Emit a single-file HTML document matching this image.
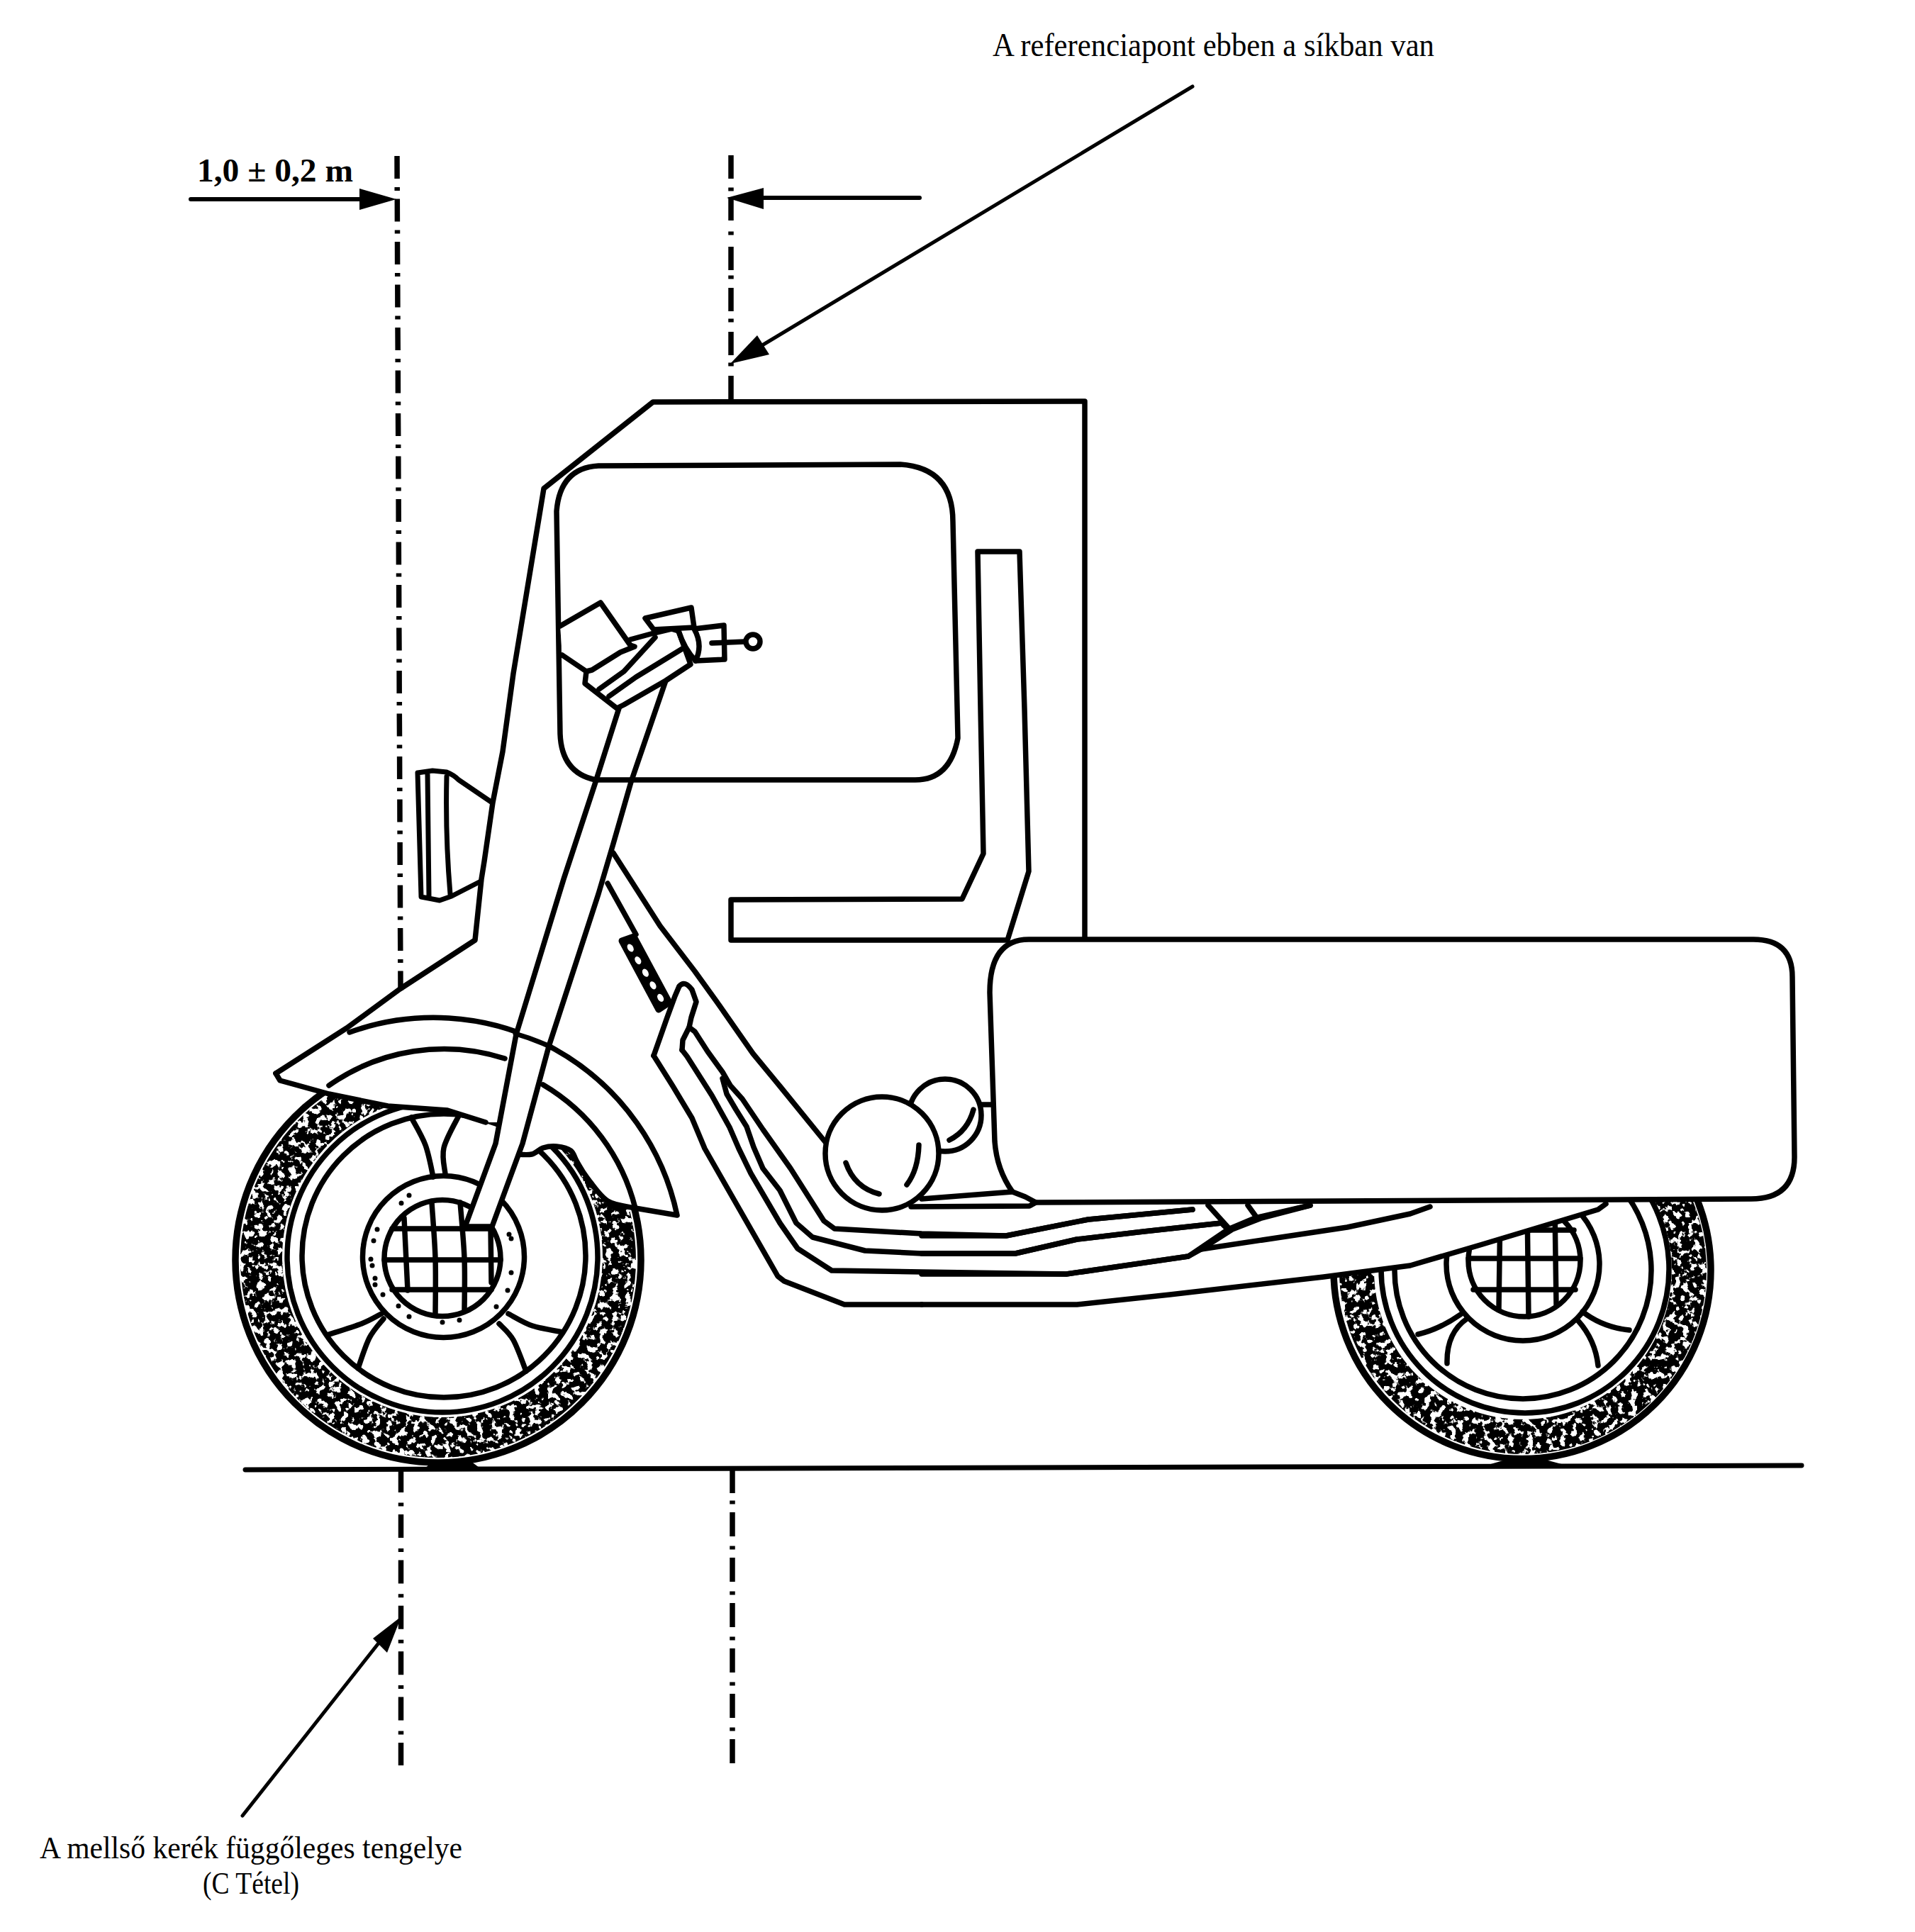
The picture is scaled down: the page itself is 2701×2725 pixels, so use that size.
<!DOCTYPE html><html><head><meta charset="utf-8"><style>
html,body{margin:0;padding:0;background:#fff;}
svg{display:block;}
text{font-family:"Liberation Serif",serif;fill:#000;}
</style></head><body>
<svg width="2701" height="2725" viewBox="0 0 2701 2725">
<defs>
<filter id="stip" x="0" y="0" width="100%" height="100%">
<feTurbulence type="fractalNoise" baseFrequency="0.11" numOctaves="3" seed="3" result="n"/>
<feColorMatrix in="n" type="matrix" values="0 0 0 0 0  0 0 0 0 0  0 0 0 0 0  0 0 0 -14 8.5" result="m"/>
<feComposite in="SourceGraphic" in2="m" operator="in"/>
</filter>
</defs>
<rect width="2701" height="2725" fill="#fff"/>
<text x="1400" y="79" font-size="46" textLength="623" lengthAdjust="spacingAndGlyphs">A referenciapont ebben a síkban van</text><text x="278" y="256" font-size="46" font-weight="bold" textLength="220" lengthAdjust="spacingAndGlyphs">1,0 ± 0,2 m</text><text x="56" y="2621" font-size="44" textLength="596" lengthAdjust="spacingAndGlyphs">A mellső kerék függőleges tengelye</text><text x="286" y="2671" font-size="44" textLength="136" lengthAdjust="spacingAndGlyphs">(C Tétel)</text><path d="M560.0,220.0L560.1,252.0M560.3,280.5L560.4,312.5M560.5,341.0L560.6,373.0M560.8,401.5L560.9,433.5M561.0,462.0L561.2,494.0M561.3,522.5L561.4,554.5M561.5,583.0L561.7,615.0M561.8,643.5L561.9,675.5M562.1,704.0L562.2,736.0M562.3,764.5L562.4,796.5M562.6,825.0L562.7,857.0M562.8,885.5L563.0,917.5M563.1,946.0L563.2,978.0M563.3,1006.5L563.5,1038.5M563.6,1067.0L563.7,1099.0M563.9,1127.5L564.0,1159.5M564.1,1188.0L564.2,1220.0M564.4,1248.5L564.5,1280.5M564.6,1309.0L564.8,1341.0M564.9,1369.5L565.0,1397.0M560.2,264.0L560.2,269.0M560.5,324.5L560.5,329.5M560.7,385.0L560.7,390.0M561.0,445.5L561.0,450.5M561.2,506.0L561.2,511.0M561.5,566.5L561.5,571.5M561.7,627.0L561.7,632.0M562.0,687.5L562.0,692.5M562.3,748.0L562.3,753.0M562.5,808.5L562.5,813.5M562.8,869.0L562.8,874.0M563.0,929.5L563.0,934.5M563.3,990.0L563.3,995.0M563.5,1050.5L563.5,1055.5M563.8,1111.0L563.8,1116.0M564.1,1171.5L564.1,1176.5M564.3,1232.0L564.3,1237.0M564.6,1292.5L564.6,1297.5M564.8,1353.0L564.8,1358.0" fill="none" stroke="#000" stroke-width="7.5" stroke-linecap="butt" stroke-linejoin="round"/><path d="M1031.0,219.0L1031.0,252.0M1031.0,278.0L1031.0,311.0M1031.0,348.0L1031.0,381.0M1031.0,406.0L1031.0,439.0M1031.0,468.0L1031.0,501.0M1031.0,530.0L1031.0,563.0M1031.0,264.5L1031.0,269.5M1031.0,326.5L1031.0,331.5M1031.0,388.5L1031.0,393.5M1031.0,449.5L1031.0,454.5M1031.0,511.5L1031.0,516.5" fill="none" stroke="#000" stroke-width="7.5" stroke-linecap="butt" stroke-linejoin="round"/><path d="M565.5,2072.0L565.5,2105.0M565.5,2136.0L565.5,2169.0M565.5,2200.4L565.5,2233.4M565.5,2264.8L565.5,2297.8M565.5,2329.2L565.5,2362.2M565.5,2393.6L565.5,2426.6M565.5,2458.0L565.5,2490.0M565.5,2119.5L565.5,2124.5M565.5,2183.9L565.5,2188.9M565.5,2248.3L565.5,2253.3M565.5,2312.7L565.5,2317.7M565.5,2377.1L565.5,2382.1M565.5,2441.5L565.5,2446.5" fill="none" stroke="#000" stroke-width="7.5" stroke-linecap="butt" stroke-linejoin="round"/><path d="M1033.0,2072.0L1033.0,2106.0M1033.0,2133.0L1033.0,2167.0M1033.0,2197.0L1033.0,2231.0M1033.0,2261.0L1033.0,2295.0M1033.0,2325.0L1033.0,2359.0M1033.0,2389.0L1033.0,2423.0M1033.0,2453.0L1033.0,2487.0M1033.0,2116.5L1033.0,2121.5M1033.0,2180.5L1033.0,2185.5M1033.0,2244.5L1033.0,2249.5M1033.0,2308.5L1033.0,2313.5M1033.0,2372.5L1033.0,2377.5M1033.0,2436.5L1033.0,2441.5" fill="none" stroke="#000" stroke-width="7.5" stroke-linecap="butt" stroke-linejoin="round"/><path d="M269,281L515,281" fill="none" stroke="#000" stroke-width="6" stroke-linecap="round" stroke-linejoin="round"/><path d="M559,281L507,266L507,296Z" fill="#000"/><path d="M1297,279L1070,279" fill="none" stroke="#000" stroke-width="6" stroke-linecap="round" stroke-linejoin="round"/><path d="M1025,279L1077,265L1077,295Z" fill="#000"/><path d="M1682,122L1070,490" fill="none" stroke="#000" stroke-width="5" stroke-linecap="round" stroke-linejoin="round"/><path d="M1030,513L1068,473L1085,500Z" fill="#000"/><path d="M342,2561L540,2310" fill="none" stroke="#000" stroke-width="5" stroke-linecap="round" stroke-linejoin="round"/><path d="M566,2280L526,2311L546,2331Z" fill="#000"/><path d="M598,2072L612,2060L660,2058L676,2070Z" fill="#000"/><path d="M2092,2068L2120,2060L2180,2059L2210,2067Z" fill="#000"/><path d="M346,2073L2541,2067" fill="none" stroke="#000" stroke-width="7" stroke-linecap="round" stroke-linejoin="round"/><path d="M2407,1792A259,259 0 1 0 1889,1792A259,259 0 1 0 2407,1792ZM2358,1792A210,210 0 1 1 1938,1792A210,210 0 1 1 2358,1792Z" fill="#000" filter="url(#stip)"/><circle cx="2147" cy="1791.5" r="266" fill="none" stroke="#000" stroke-width="9.5"/><circle cx="2151" cy="1790" r="203" fill="none" stroke="#000" stroke-width="7.5"/><circle cx="2148" cy="1792" r="181" fill="none" stroke="#000" stroke-width="7.5"/><circle cx="2148" cy="1783" r="108" fill="none" stroke="#000" stroke-width="7.5"/><circle cx="2150" cy="1778" r="79" fill="none" stroke="#000" stroke-width="7.5"/><path d="M2071,1775L2229,1775M2078,1819L2222,1819M2080,1735L2220,1735" fill="none" stroke="#000" stroke-width="7.5" stroke-linecap="round" stroke-linejoin="round"/><path d="M2116,1705L2114,1846M2154,1700L2156,1857M2193,1705L2195,1840" fill="none" stroke="#000" stroke-width="7.5" stroke-linecap="round" stroke-linejoin="round"/><path d="M2000,1882Q2030,1875 2060,1854M2041,1923Q2040,1880 2069,1860M2226,1863Q2250,1890 2254,1926M2232,1850Q2260,1872 2298,1876" fill="none" stroke="#000" stroke-width="7.5" stroke-linecap="round" stroke-linejoin="round"/><path d="M1500,1688L2270,1688L2265,1702L2256,1708L2091,1757L1989,1787L1867,1803L1650,1828L1519,1842L1300,1842Z" fill="#fff" stroke="none"/><path d="M1300,1840L1519,1840L1650,1826L1867,1801L1989,1785L2091,1755L2254,1706L2265,1698" fill="none" stroke="#000" stroke-width="7.5" stroke-linecap="round" stroke-linejoin="round"/><path d="M1300,1797L1504,1797L1676,1772L1694,1762L1738,1734L1779,1718L1848,1700" fill="none" stroke="#000" stroke-width="7.5" stroke-linecap="round" stroke-linejoin="round"/><path d="M1694,1762L1900,1731L1989,1712L2017,1702" fill="none" stroke="#000" stroke-width="7.5" stroke-linecap="round" stroke-linejoin="round"/><path d="M1300,1768L1432,1768L1519,1748L1613,1737L1723,1725L1732,1734" fill="none" stroke="#000" stroke-width="7.5" stroke-linecap="round" stroke-linejoin="round"/><path d="M1300,1743L1419,1743L1535,1720L1682,1706" fill="none" stroke="#000" stroke-width="7.5" stroke-linecap="round" stroke-linejoin="round"/><path d="M1704,1700L1732,1731M1760,1700L1773,1718" fill="none" stroke="#000" stroke-width="7.5" stroke-linecap="round" stroke-linejoin="round"/><path d="M1451,1325L2473,1325Q2528,1325 2528,1378L2531,1632Q2531,1691 2470,1691L1461,1696L1446,1688L1428,1681Q1406,1650 1403,1610L1396,1400Q1396,1325 1451,1325Z" fill="#fff" stroke="#000" stroke-width="7.5" stroke-linecap="round" stroke-linejoin="round"/><path d="M897,1777A279,279 0 1 0 339,1777A279,279 0 1 0 897,1777ZM850,1773A226,226 0 1 1 398,1773A226,226 0 1 1 850,1773Z" fill="#000" filter="url(#stip)"/><circle cx="618" cy="1777" r="286" fill="none" stroke="#000" stroke-width="9.5"/><circle cx="624" cy="1773" r="219" fill="none" stroke="#000" stroke-width="7.5"/><circle cx="626" cy="1771" r="200" fill="none" stroke="#000" stroke-width="7.5"/><circle cx="625.5" cy="1772.5" r="114" fill="none" stroke="#000" stroke-width="7.5"/><circle cx="624" cy="1774.5" r="82" fill="none" stroke="#000" stroke-width="7.5"/><path d="M553,1733L693,1733M542,1777L706,1777M553,1819L693,1819" fill="none" stroke="#000" stroke-width="7.5" stroke-linecap="round" stroke-linejoin="round"/><path d="M570,1718L575,1820" fill="none" stroke="#000" stroke-width="7.5" stroke-linecap="round" stroke-linejoin="round"/><path d="M609.0,1696.0C609.8,1709.2 613.2,1748.7 614.0,1775.0C614.8,1801.3 614.0,1840.8 614.0,1854.0" fill="none" stroke="#000" stroke-width="7.5" stroke-linecap="round" stroke-linejoin="round"/><path d="M649.0,1696.0C650.0,1709.2 654.0,1749.5 655.0,1775.0C656.0,1800.5 655.0,1836.7 655.0,1849.0" fill="none" stroke="#000" stroke-width="7.5" stroke-linecap="round" stroke-linejoin="round"/><path d="M692,1732L693,1809" fill="none" stroke="#000" stroke-width="7.5" stroke-linecap="round" stroke-linejoin="round"/><circle cx="577" cy="1686" r="3.5" fill="#000"/><circle cx="566" cy="1697" r="3.5" fill="#000"/><circle cx="532" cy="1734" r="3.5" fill="#000"/><circle cx="527" cy="1750" r="3.5" fill="#000"/><circle cx="523" cy="1776" r="3.5" fill="#000"/><circle cx="525" cy="1785" r="3.5" fill="#000"/><circle cx="529" cy="1803" r="3.5" fill="#000"/><circle cx="529" cy="1812" r="3.5" fill="#000"/><circle cx="540" cy="1826" r="3.5" fill="#000"/><circle cx="562" cy="1842" r="3.5" fill="#000"/><circle cx="577" cy="1857" r="3.5" fill="#000"/><circle cx="624" cy="1865" r="3.5" fill="#000"/><circle cx="648" cy="1862" r="3.5" fill="#000"/><circle cx="700" cy="1843" r="3.5" fill="#000"/><circle cx="716" cy="1820" r="3.5" fill="#000"/><circle cx="721" cy="1795" r="3.5" fill="#000"/><circle cx="718" cy="1741" r="3.5" fill="#000"/><circle cx="721" cy="1747" r="3.5" fill="#000"/><path d="M580.0,1576.0C583.3,1582.5 594.8,1601.0 600.0,1615.0C605.2,1629.0 609.2,1652.5 611.0,1660.0" fill="none" stroke="#000" stroke-width="7.5" stroke-linecap="round" stroke-linejoin="round"/><path d="M648.0,1572.0C644.3,1579.8 629.3,1605.0 626.0,1619.0C622.7,1633.0 627.7,1649.8 628.0,1656.0" fill="none" stroke="#000" stroke-width="7.5" stroke-linecap="round" stroke-linejoin="round"/><path d="M461.0,1883.0C469.2,1880.3 497.2,1872.0 510.0,1867.0C522.8,1862.0 533.3,1855.3 538.0,1853.0" fill="none" stroke="#000" stroke-width="7.5" stroke-linecap="round" stroke-linejoin="round"/><path d="M505.0,1930.0C507.7,1922.8 515.0,1898.7 521.0,1887.0C527.0,1875.3 537.7,1864.5 541.0,1860.0" fill="none" stroke="#000" stroke-width="7.5" stroke-linecap="round" stroke-linejoin="round"/><path d="M704.0,1867.0C707.3,1870.8 717.7,1878.8 724.0,1890.0C730.3,1901.2 739.0,1926.7 742.0,1934.0" fill="none" stroke="#000" stroke-width="7.5" stroke-linecap="round" stroke-linejoin="round"/><path d="M717.0,1853.0C722.7,1855.8 738.2,1865.7 751.0,1870.0C763.8,1874.3 786.8,1877.5 794.0,1879.0" fill="none" stroke="#000" stroke-width="7.5" stroke-linecap="round" stroke-linejoin="round"/><path d="M389,1514L493,1456A351,351 0 0 1 727,1458L710,1583L685,1583L631,1566L547,1560L464,1543L395,1524Z" fill="#fff" stroke="none"/><path d="M771,1474A351,351 0 0 1 955,1714L896,1704L857,1694L828,1661L814,1639L805,1623L785,1617L766,1619L733,1628L759,1530Z" fill="#fff" stroke="none"/><path d="M493,1456A351,351 0 0 1 955,1714L896,1704" fill="none" stroke="#000" stroke-width="7.5" stroke-linecap="round" stroke-linejoin="round"/><path d="M464,1531A281,281 0 0 1 712,1493" fill="none" stroke="#000" stroke-width="7.5" stroke-linecap="round" stroke-linejoin="round"/><path d="M766,1530A281,281 0 0 1 896,1704" fill="none" stroke="#000" stroke-width="7.5" stroke-linecap="round" stroke-linejoin="round"/><path d="M389,1514L395,1524L464,1543L547,1560L631,1566L685,1583" fill="none" stroke="#000" stroke-width="7.5" stroke-linecap="round" stroke-linejoin="round"/><path d="M727.0,1628.0C730.8,1628.0 743.5,1629.5 750.0,1628.0C756.5,1626.5 760.2,1620.8 766.0,1619.0C771.8,1617.2 778.5,1616.3 785.0,1617.0C791.5,1617.7 800.2,1619.3 805.0,1623.0C809.8,1626.7 810.2,1632.7 814.0,1639.0C817.8,1645.3 820.8,1651.8 828.0,1661.0C835.2,1670.2 845.7,1686.8 857.0,1694.0C868.3,1701.2 889.5,1702.3 896.0,1704.0" fill="none" stroke="#000" stroke-width="7.5" stroke-linecap="round" stroke-linejoin="round"/><path d="M873,1000L840,1103L795,1240L728,1459L699,1613L656,1730L694,1730L737,1613L774,1476L844,1261L865,1190L890,1103L939,960Z" fill="#fff" stroke="none"/><path d="M873,999L840,1103L795,1240L728,1459L699,1613L656,1730L694,1730L737,1613L774,1476L844,1261L865,1190L890,1103L939,960" fill="none" stroke="#000" stroke-width="7.5" stroke-linecap="round" stroke-linejoin="round"/><path d="M727,1458A351,351 0 0 1 771,1474" fill="none" stroke="#000" stroke-width="7" stroke-linecap="round" stroke-linejoin="round"/><path d="M1530,1324L1530,566L921,567L767,689L724,950L709,1060L695,1132L683,1215L679,1240L670,1326L564,1395L489,1450L389,1514" fill="none" stroke="#000" stroke-width="7.5" stroke-linecap="round" stroke-linejoin="round"/><path d="M844,657L1270,655Q1344,660 1344,736L1351,1041Q1340,1100 1291,1100L840,1100Q792,1090 790,1035L785,721Q790,660 844,657Z" fill="none" stroke="#000" stroke-width="7.5" stroke-linecap="round" stroke-linejoin="round"/><path d="M1379,778L1438,778L1445,1000L1451,1229L1421,1326L1031,1326L1031,1269L1357,1268L1387,1204L1383,1000Z" fill="none" stroke="#000" stroke-width="7.5" stroke-linecap="round" stroke-linejoin="round"/><path d="M589,1090L610,1087L630,1089Q640,1093 647,1100L694,1132M589,1090L594,1265L620,1270L637,1264L678,1243M603,1092L605,1264M630,1095Q628,1180 635,1261" fill="none" stroke="#000" stroke-width="7" stroke-linecap="round" stroke-linejoin="round"/><path d="M865,1203L931,1306L980,1370L1011,1413L1062,1486L1100,1532L1165,1612" fill="none" stroke="#000" stroke-width="7.5" stroke-linecap="round" stroke-linejoin="round"/><path d="M857,1246L897,1318" fill="none" stroke="#000" stroke-width="7.5" stroke-linecap="round" stroke-linejoin="round"/><path d="M877,1327L894,1321L944,1414L929,1424Z" fill="#000" stroke="#000" stroke-width="9" stroke-linejoin="round"/><ellipse cx="889.2" cy="1337.0" rx="4" ry="6" transform="rotate(-30 889.2 1337.0)" fill="#fff"/><ellipse cx="899.8" cy="1354.6" rx="4" ry="6" transform="rotate(-30 899.8 1354.6)" fill="#fff"/><ellipse cx="910.4" cy="1372.2" rx="4" ry="6" transform="rotate(-30 910.4 1372.2)" fill="#fff"/><ellipse cx="921.0" cy="1389.8" rx="4" ry="6" transform="rotate(-30 921.0 1389.8)" fill="#fff"/><ellipse cx="931.6" cy="1407.4" rx="4" ry="6" transform="rotate(-30 931.6 1407.4)" fill="#fff"/><path d="M922,1489L941,1435L952,1405L958,1391Q966,1382 976,1396L982,1413L975,1435L972,1449L963,1467L962,1481" fill="none" stroke="#000" stroke-width="7.5" stroke-linecap="round" stroke-linejoin="round"/><path d="M972,1449L980,1455L998,1483L1019,1512L1030,1531L1047,1550L1076,1593L1115,1648L1162,1722L1177,1733L1300,1740L1419,1743L1535,1720L1682,1706" fill="none" stroke="#000" stroke-width="7.5" stroke-linecap="round" stroke-linejoin="round"/><path d="M1019,1521L1025,1543L1038,1565L1053,1589L1063,1618L1076,1648L1100,1679L1123,1725L1146,1745L1220,1764L1300,1768L1432,1768L1519,1748L1613,1737L1723,1725L1732,1734" fill="none" stroke="#000" stroke-width="7.5" stroke-linecap="round" stroke-linejoin="round"/><path d="M962,1481L969,1490L1004,1545L1029,1590L1042,1620L1059,1655L1100,1725L1125,1761L1173,1792L1300,1794L1504,1797L1676,1772L1732,1734L1770,1718L1848,1700" fill="none" stroke="#000" stroke-width="7.5" stroke-linecap="round" stroke-linejoin="round"/><path d="M922,1489L949,1532L976,1577L994,1620L1014,1655L1097,1800L1106,1807L1191,1840L1300,1840" fill="none" stroke="#000" stroke-width="7.5" stroke-linecap="round" stroke-linejoin="round"/><circle cx="1333" cy="1573" r="51" fill="#fff" stroke="#000" stroke-width="7.5"/><circle cx="1244" cy="1627" r="80" fill="#fff" stroke="#000" stroke-width="7.5"/><path d="M1193,1640Q1205,1675 1240,1684M1296,1615Q1295,1650 1279,1671M1373,1565Q1365,1595 1339,1608" fill="none" stroke="#000" stroke-width="7.5" stroke-linecap="round" stroke-linejoin="round"/><path d="M1384,1558L1398,1558" fill="none" stroke="#000" stroke-width="7.5" stroke-linecap="round" stroke-linejoin="round"/><path d="M1300,1691L1428,1681M1285,1702L1452,1701L1461,1696" fill="none" stroke="#000" stroke-width="7.5" stroke-linecap="round" stroke-linejoin="round"/><path d="M827,947L825,964L870,999L880,994L939,960L974,937L957,890L947,887L922,893L889,902" fill="#fff" stroke="#000" stroke-width="7.5" stroke-linecap="round" stroke-linejoin="round"/><path d="M790,883L847,850L889,910L895,912L875,920L835,945L827,947L793,924" fill="#fff" stroke="#000" stroke-width="7.5" stroke-linecap="round" stroke-linejoin="round"/><path d="M845,972L880,947L924,899M859,982L897,955L964,914" fill="none" stroke="#000" stroke-width="7.5" stroke-linecap="round" stroke-linejoin="round"/><path d="M910,872L975,857L979,885L922,888Z" fill="#fff" stroke="#000" stroke-width="7.5" stroke-linecap="round" stroke-linejoin="round"/><path d="M979,887L1021,882L1022,930L981,932Q992,910 979,887Z" fill="#fff" stroke="#000" stroke-width="7.5" stroke-linecap="round" stroke-linejoin="round"/><path d="M957,890Q965,915 981,932" fill="none" stroke="#000" stroke-width="7.5" stroke-linecap="round" stroke-linejoin="round"/><path d="M1004,907L1051,905" fill="none" stroke="#000" stroke-width="7.5" stroke-linecap="round" stroke-linejoin="round"/><circle cx="1062" cy="905" r="10" fill="none" stroke="#000" stroke-width="7.5"/></svg></body></html>
